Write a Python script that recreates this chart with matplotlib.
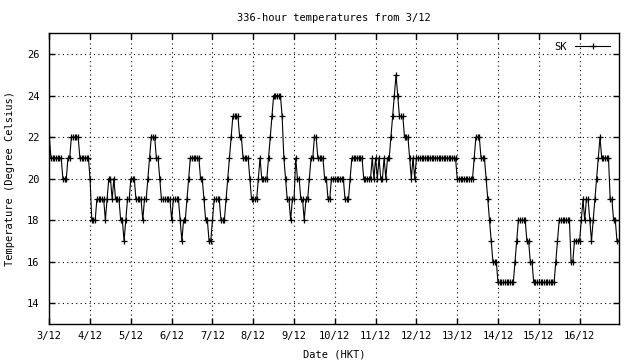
import matplotlib
matplotlib.use("Agg")
import matplotlib.pyplot as plt

# hourly temperatures (deg C), one list per day starting 3/12 00:00
day_03 = [22,21,21,21,21,21,21,21,20,20,20,21,21,22,22,22,22,22,21,21,21,21,21,21]
day_04 = [20,18,18,18,19,19,19,19,19,18,19,20,20,19,20,19,19,19,18,18,17,18,19,19]
day_05 = [20,20,20,19,19,19,19,18,19,19,20,21,22,22,22,21,21,20,19,19,19,19,19,19]
day_06 = [18,19,19,19,19,18,17,18,18,19,20,21,21,21,21,21,21,20,20,19,18,18,17,17]
day_07 = [18,19,19,19,19,18,18,18,19,20,21,22,23,23,23,23,22,22,21,21,21,21,20,19]
day_08 = [19,19,19,20,21,20,20,20,20,21,22,23,24,24,24,24,24,23,21,20,19,19,18,19]
day_09 = [19,21,20,20,19,19,18,19,19,20,21,21,22,22,21,21,21,21,20,20,19,19,20,20]
day_10 = [20,20,20,20,20,20,19,19,19,20,21,21,21,21,21,21,21,20,20,20,20,20,21,20]
day_11 = [21,20,21,20,20,21,20,21,21,22,23,24,25,24,23,23,23,22,22,22,21,20,21,20]
day_12 = [21,21,21,21,21,21,21,21,21,21,21,21,21,21,21,21,21,21,21,21,21,21,21,21]
day_13 = [20,20,20,20,20,20,20,20,20,20,21,22,22,22,21,21,21,20,19,18,17,16,16,16]
day_14 = [15,15,15,15,15,15,15,15,15,15,16,17,18,18,18,18,18,17,17,16,16,15,15,15]
day_15 = [15,15,15,15,15,15,15,15,15,15,16,17,18,18,18,18,18,18,18,16,16,17,17,17]
day_16 = [17,18,19,18,19,19,18,17,18,19,20,21,22,21,21,21,21,21,19,19,18,18,17,17]

days = [day_03, day_04, day_05, day_06, day_07, day_08, day_09,
        day_10, day_11, day_12, day_13, day_14, day_15, day_16]
temps = [t for d in days for t in d]
hours = list(range(len(temps)))

tick_labels = ["3/12", "4/12", "5/12", "6/12", "7/12", "8/12", "9/12",
               "10/12", "11/12", "12/12", "13/12", "14/12", "15/12", "16/12"]
tick_hours = [24 * i for i in range(len(tick_labels))]
y_ticks = [14, 16, 18, 20, 22, 24, 26]

plt.rcParams['font.family'] = ['DejaVu Sans Mono']
fig = plt.figure(figsize=(6.4, 3.6), dpi=100)
ax = fig.add_axes([0.0770, 0.100, 0.8897, 0.8075])

ax.plot(hours, temps, color='black', lw=0.8, marker='+', ms=4.5, mew=0.9, label='SK')

ax.set_xlim(0, len(temps) - 1)
ax.set_ylim(13, 27)
ax.set_xticks(tick_hours)
ax.set_xticklabels(tick_labels)
ax.set_yticks(y_ticks)
ax.tick_params(direction='in', length=4, width=1, top=True, right=True,
               labelsize=7.5)
ax.tick_params(axis='x', pad=5)
ax.tick_params(axis='y', pad=7)
ax.grid(True, color='black', linestyle=(0, (1, 3)), linewidth=0.8)
for s in ax.spines.values():
    s.set_linewidth(1.0)

ax.set_title("336-hour temperatures from 3/12", fontsize=7.5, pad=9)
ax.set_xlabel("Date (HKT)", fontsize=7.5, labelpad=6)
ax.set_ylabel("Temperature (Degree Celsius)", fontsize=7.5, labelpad=9)

leg = ax.legend(loc='upper right', frameon=False, markerfirst=False,
                fontsize=7.5, handlelength=3.4, borderaxespad=0.4)

fig.savefig("out.png", dpi=100)
